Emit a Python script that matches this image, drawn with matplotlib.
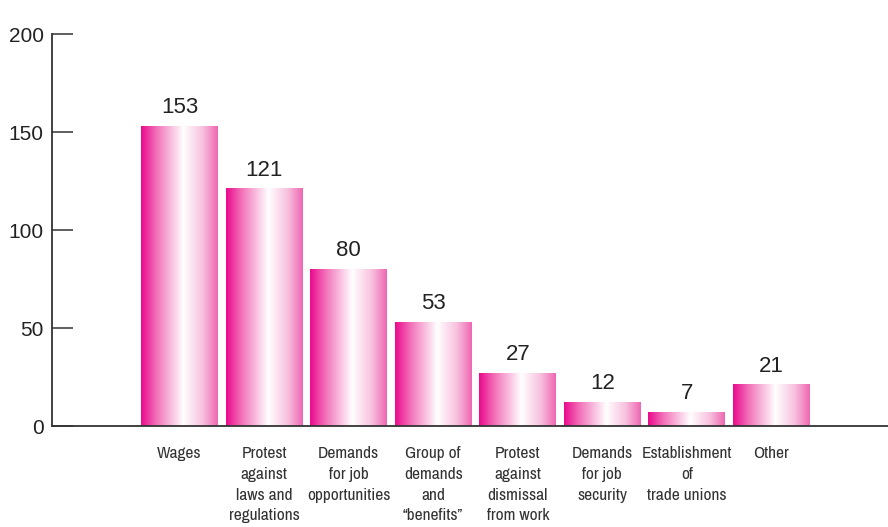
import matplotlib.pyplot as plt
import numpy as np
from matplotlib.colors import LinearSegmentedColormap

categories = ["Wages",
              "Protest\nagainst\nlaws and\nregulations",
              "Demands\nfor job\nopportunities",
              "Group of\ndemands\nand\n\u201cbenefits\u201d",
              "Protest\nagainst\ndismissal\nfrom work",
              "Demands\nfor job\nsecurity",
              "Establishment\nof\ntrade unions",
              "Other"]
counts = [153, 121, 80, 53, 27, 12, 7, 21]
yticks = [0, 50, 100, 150, 200]

plt.rcParams['font.family'] = ['Liberation Sans', 'DejaVu Sans']
narrow = ['Archivo Narrow', 'Roboto Condensed', 'DejaVu Sans']

# magenta -> white -> pink, left to right across each bar
pink = LinearSegmentedColormap.from_list("pink_bar", [
    (0.0, "#EB0A8C"), (0.2, "#F270B8"), (0.55, "#FFFFFF"),
    (0.8, "#F8C2DF"), (1.0, "#EE66B2")])
grad = np.linspace(0, 1, 256).reshape(1, -1)

fig = plt.figure(figsize=(8.88, 5.27), dpi=100)
ax = fig.add_axes([52/888, 1 - 426/527, 1 - 52/888, (426 - 34)/527])

x = np.arange(len(counts))
bars = ax.bar(x, counts, width=0.91, color="none", edgecolor="none")
for b in bars:
    ax.imshow(grad, cmap=pink, aspect="auto", interpolation="bicubic",
              extent=(b.get_x(), b.get_x() + b.get_width(), 0, b.get_height()),
              zorder=1)

ax.bar_label(bars, padding=6, fontsize=16, color="#222222")

ax.set_xlim(-1.508, 8.378)
ax.set_ylim(0, 200)
ax.set_yticks(yticks)
ax.set_xticks(x)
ax.set_xticklabels(categories, family=narrow, fontsize=12.5, color="#333333",
                   linespacing=1.48)
ax.tick_params(axis="x", length=0, pad=14.5)
ax.tick_params(axis="y", direction="in", length=15, width=1.1, color="#333333",
               labelsize=15, labelcolor="#222222", pad=6)

for s in ["top", "right"]:
    ax.spines[s].set_visible(False)
for s in ["left", "bottom"]:
    ax.spines[s].set_color("#333333")
    ax.spines[s].set_linewidth(1.3)
    ax.spines[s].set_zorder(3)

fig.savefig("out.png", dpi=100)
